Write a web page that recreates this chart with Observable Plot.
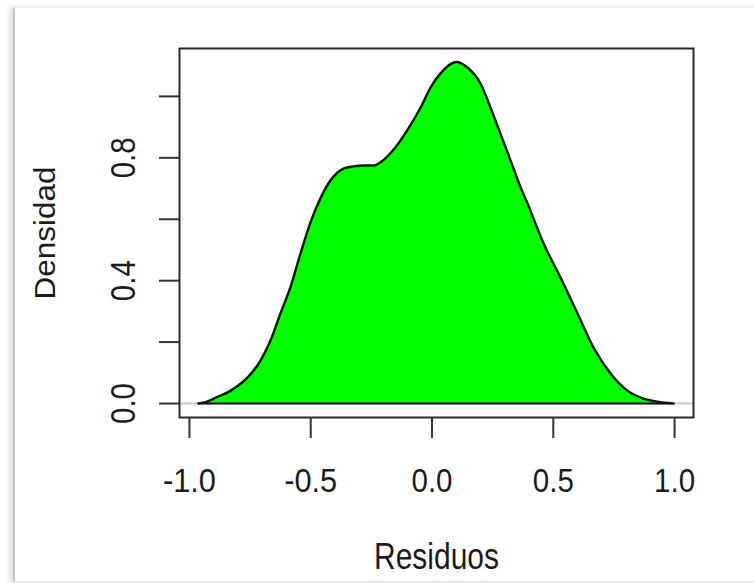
<!DOCTYPE html>
<html>
<head>
<meta charset="utf-8">
<script src="https://cdn.jsdelivr.net/npm/d3@7"></script>
<script src="https://cdn.jsdelivr.net/npm/@observablehq/plot@0.6"></script>
<style>
  html, body { margin: 0; padding: 0; background: #ffffff; }
  #page { position: relative; width: 754px; height: 583px; overflow: hidden; background: #fff; }
  #frame {
    position: absolute; left: 13px; top: 7px; right: -4px; bottom: 1px;
    border-left: 2px solid #c4c4c4; border-top: 1px solid #ececec; border-bottom: 1px solid #e4e4e4;
    box-shadow: -4px 0 5px rgba(0,0,0,0.13);
    background: #fff;
  }
  #chart { position: absolute; left: 0; top: 0; }
</style>
</head>
<body>
<div id="page"><div id="frame"></div><div id="chart"></div></div>
<script>
// Kernel density of the residuals
const residuo = [-0.963, -0.93, -0.90, -0.83, -0.76, -0.707, -0.666, -0.625, -0.584, -0.542,
                 -0.501, -0.46, -0.419, -0.365, -0.324, -0.282, -0.241, -0.2, -0.159, -0.101,
                 -0.047, -0.006, 0.035, 0.1, 0.146, 0.2, 0.241, 0.282, 0.324, 0.365,
                 0.394, 0.46, 0.53, 0.6, 0.666, 0.736, 0.806, 0.872, 0.93, 0.996];
const densidad = [0, 0.005, 0.016, 0.042, 0.085, 0.14, 0.205, 0.293, 0.378, 0.489,
                  0.59, 0.668, 0.726, 0.765, 0.772, 0.775, 0.775, 0.793, 0.826, 0.891,
                  0.964, 1.029, 1.075, 1.112, 1.094, 1.042, 0.964, 0.879, 0.791, 0.704,
                  0.651, 0.521, 0.41, 0.293, 0.182, 0.098, 0.042, 0.016, 0.006, 0];
const xTicks = [-1.0, -0.5, 0.0, 0.5, 1.0];
const yTicks = [0, 0.2, 0.4, 0.6, 0.8, 1.0];
const yLabels = [0, 0.4, 0.8];
const xTitle = "Residuos";
const yTitle = "Densidad";

const data = residuo.map((x, i) => ({x, y: densidad[i]}));
const fmt = d => d.toFixed(1);
const font = "'Liberation Sans', Arial, Helvetica, sans-serif";

const svg = Plot.plot({
  width: 754,
  height: 583,
  marginLeft: 179,
  marginRight: 61,
  marginTop: 48,
  marginBottom: 166,
  style: {background: "transparent", color: "#1c1c1c", fontFamily: font, overflow: "visible"},
  x: {domain: [-1.041, 1.078]},
  y: {domain: [-0.0455, 1.156]},
  marks: [
    Plot.ruleY([0], {stroke: "#c8c8c8", strokeWidth: 2}),
    Plot.areaY(data, {x: "x", y: "y", fill: "#00ff00", curve: "monotone-x"}),
    Plot.line(data, {x: "x", y: "y", stroke: "#111", strokeWidth: 2.4, curve: "monotone-x"}),
    Plot.ruleY([0], {x1: residuo[0], x2: residuo[residuo.length - 1], stroke: "#111", strokeWidth: 2}),
    Plot.frame({stroke: "#2a2a2a", strokeWidth: 2}),
    Plot.axisX({ticks: xTicks, tickSize: 21, tickPadding: 29, tickFormat: fmt, fontSize: 34,
                strokeWidth: 2, stroke: "#333", label: null}),
    Plot.axisY({ticks: yTicks, tickSize: 20, tickFormat: () => "", strokeWidth: 2, stroke: "#333", label: null}),
    Plot.text(yLabels, {y: d => d, text: fmt, frameAnchor: "left", dx: -56, rotate: -90,
                        fontSize: 35, lineAnchor: "middle", textAnchor: "middle"}),
    Plot.text([xTitle], {text: d => d, frameAnchor: "bottom", dy: 126, fontSize: 36, lineAnchor: "top"}),
    Plot.text([yTitle], {text: d => d, frameAnchor: "left", dx: -134, rotate: -90, fontSize: 30,
                         lineAnchor: "middle", textAnchor: "middle"})
  ]
});
document.getElementById("chart").appendChild(svg);

// match the narrow glyph widths of the original rendering
const lengths = {"-1.0": 53, "-0.5": 53, "0.0": 41, "0.5": 41, "1.0": 41, "0.4": 41, "0.8": 41,
                 "Residuos": 125, "Densidad": 133};
d3.select(svg).selectAll("text").each(function() {
  const s = this.textContent;
  if (lengths[s] && !this.querySelector("tspan")) {
    this.setAttribute("textLength", lengths[s]);
    this.setAttribute("lengthAdjust", "spacingAndGlyphs");
  }
});
</script>
</body>
</html>
